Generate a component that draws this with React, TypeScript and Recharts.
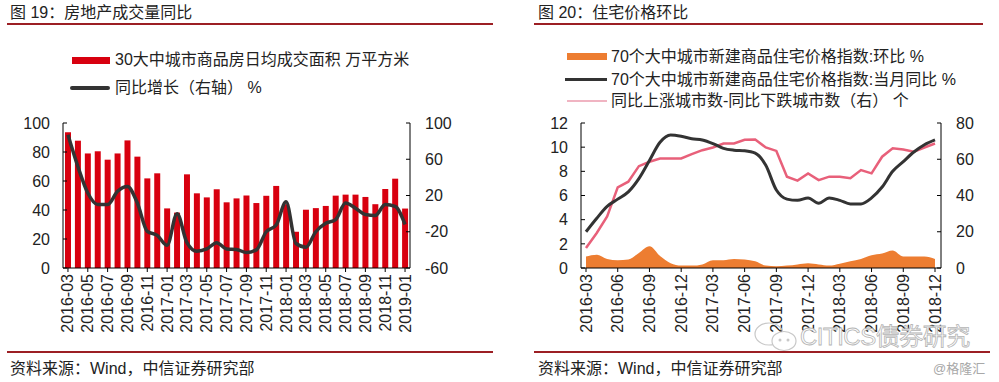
import React from 'react';
import { ComposedChart, Bar, Line, Area, XAxis, YAxis } from 'recharts';

const FONT = '"Liberation Sans", Arial, "Noto Sans CJK SC", sans-serif';

// 图 19：30大中城市商品房成交
const months19 = [
  '2016-03', '2016-04', '2016-05', '2016-06', '2016-07', '2016-08', '2016-09', '2016-10', '2016-11', '2016-12',
  '2017-01', '2017-02', '2017-03', '2017-04', '2017-05', '2017-06', '2017-07', '2017-08', '2017-09', '2017-10',
  '2017-11', '2017-12', '2018-01', '2018-02', '2018-03', '2018-04', '2018-05', '2018-06', '2018-07', '2018-08',
  '2018-09', '2018-10', '2018-11', '2018-12', '2019-01',
];
const dailyArea = [
  93.6, 87.8, 79, 80.5, 74.7, 79, 88, 76.8, 61.8, 65.3,
  41.1, 38.2, 64.6, 51.5, 48.7, 54.3, 45.3, 48, 50, 44.8,
  49.8, 56.6, 44, 25, 40.2, 41.3, 42.8, 49.9, 50.6, 50.6,
  49, 44, 54.5, 61.6, 41,
];
const areaYoy = [
  87, 52, 22.7, 10, 10, 24.6, 30, 11.7, -19.5, -24,
  -35, 0, -32, -41.5, -39, -32, -39, -39.5, -43, -40,
  -20, -12.6, 13, -33, -37, -20, -10.7, -6.6, 11.7, 6,
  -1, -2, 10, 8, -12,
];

// 图 20：70城新建商品住宅价格
const months20 = [
  '2016-03', '2016-04', '2016-05', '2016-06', '2016-07', '2016-08', '2016-09', '2016-10', '2016-11', '2016-12',
  '2017-01', '2017-02', '2017-03', '2017-04', '2017-05', '2017-06', '2017-07', '2017-08', '2017-09', '2017-10',
  '2017-11', '2017-12', '2018-01', '2018-02', '2018-03', '2018-04', '2018-05', '2018-06', '2018-07', '2018-08',
  '2018-09', '2018-10', '2018-11', '2018-12',
];
const priceMom = [
  0.95, 1.1, 0.75, 0.65, 0.7, 1.25, 1.8, 1.0, 0.4, 0.2,
  0.2, 0.3, 0.65, 0.65, 0.75, 0.7, 0.55, 0.2, 0.15, 0.2,
  0.3, 0.4, 0.3, 0.2, 0.35, 0.55, 0.75, 1.05, 1.2, 1.45,
  0.95, 0.95, 0.95, 0.75,
];
const priceYoy = [
  3.0, 4.1, 5.1, 5.7, 6.3, 7.4, 8.9, 10.4, 11.0, 10.9,
  10.7, 10.6, 10.3, 9.9, 9.75, 9.7, 9.5, 8.5, 6.45, 5.7,
  5.6, 5.8, 5.35, 5.8, 5.6, 5.3, 5.3, 5.8, 6.7, 8.0,
  8.8, 9.6, 10.2, 10.6,
];
const upMinusDown = [
  11, 19.2, 28.4, 44.5, 47.6, 56.2, 58.6, 60.4, 60.4, 60.4,
  62.8, 65, 66.5, 68.7, 68.7, 70.7, 70.9, 66.5, 64.6, 50.4,
  48.2, 52.2, 48.5, 50.4, 50.4, 49.5, 54, 52.2, 61.4, 66,
  65.4, 64.1, 66.5, 68.7,
];

const leftTicks19 = [0, 20, 40, 60, 80, 100];
const rightTicks19 = [-60, -40, -20, 0, 20, 40, 60, 80, 100];
const leftTicks20 = [0, 2, 4, 6, 8, 10, 12];
const rightTicks20 = [0, 20, 40, 60, 80];

const data19 = months19.map((m, i) => ({ month: m, area: dailyArea[i], yoy: areaYoy[i] }));
const data20 = months20.map((m, i) => ({ month: m, mom: priceMom[i], yoy: priceYoy[i], diff: upMinusDown[i] }));

const RED = '#d8000f';
const DARK = '#333333';
const ORANGE = '#ed7d31';
const PINK = '#e8607a';
const RULE = '#9c1f24';
const tickStyle = { fontSize: 16, fill: '#222', fontFamily: FONT };

function VTick(props: any) {
  const { x, y, payload } = props;
  return (
    <text
      x={x}
      y={y}
      transform={`rotate(-90 ${x} ${y})`}
      textAnchor="end"
      dominantBaseline="central"
      fontSize={16}
      fill="#222"
      fontFamily={FONT}
    >
      {payload.value}
    </text>
  );
}

function Txt({ left, cy, size = 16, color = '#222', children }: any) {
  return (
    <div
      style={{
        position: 'absolute',
        left,
        top: cy - 11,
        height: 22,
        lineHeight: '22px',
        fontSize: size,
        color,
        whiteSpace: 'nowrap',
      }}
    >
      {children}
    </div>
  );
}

function Rule({ left, top, width }: any) {
  return <div style={{ position: 'absolute', left, top, width, height: 2, background: RULE }} />;
}

export default function App() {
  return (
    <div
      style={{
        position: 'absolute',
        left: 0,
        top: 0,
        width: 999,
        height: 382,
        background: '#fff',
        fontFamily: FONT,
        overflow: 'hidden',
      }}
    >
      {/* 左图 */}
      <div style={{ position: 'absolute', left: 0, top: 0 }}>
        <ComposedChart width={500} height={345} data={data19} margin={{ top: 123, right: 0, bottom: 0, left: 0 }}>
          <XAxis
            dataKey="month"
            interval={1}
            height={77}
            tick={<VTick />}
            tickSize={4}
            tickMargin={2}
            stroke="#000"
          />
          <YAxis
            yAxisId="l"
            width={63}
            domain={[0, 100]}
            ticks={leftTicks19}
            tick={tickStyle}
            tickSize={-4}
            tickMargin={17}
            stroke="#000"
          />
          <YAxis
            yAxisId="r"
            orientation="right"
            width={90}
            domain={[-60, 100]}
            ticks={rightTicks19}
            tick={tickStyle}
            tickSize={-4}
            tickMargin={19}
            stroke="#000"
          />
          <Bar yAxisId="l" dataKey="area" fill={RED} barSize={6} isAnimationActive={false} />
          <Line
            yAxisId="r"
            type="monotone"
            dataKey="yoy"
            stroke={DARK}
            strokeWidth={3.5}
            dot={false}
            isAnimationActive={false}
          />
        </ComposedChart>
      </div>

      {/* 右图 */}
      <div style={{ position: 'absolute', left: 500, top: 0 }}>
        <ComposedChart width={500} height={345} data={data20} margin={{ top: 123, right: 0, bottom: 0, left: 0 }}>
          <XAxis
            dataKey="month"
            interval={2}
            height={77}
            tick={<VTick />}
            tickSize={4}
            tickMargin={2}
            padding={{ left: 5, right: 6 }}
            stroke="#000"
          />
          <YAxis
            yAxisId="l"
            width={81}
            domain={[0, 12]}
            ticks={leftTicks20}
            tick={tickStyle}
            tickSize={-4}
            tickMargin={17}
            stroke="#000"
          />
          <YAxis
            yAxisId="r"
            orientation="right"
            width={59}
            domain={[0, 80]}
            ticks={rightTicks20}
            tick={tickStyle}
            tickSize={-4}
            tickMargin={19}
            stroke="#000"
          />
          <Area
            yAxisId="l"
            type="monotone"
            dataKey="mom"
            stroke="none"
            fill={ORANGE}
            fillOpacity={1}
            isAnimationActive={false}
          />
          <Line
            yAxisId="r"
            type="linear"
            dataKey="diff"
            stroke={PINK}
            strokeWidth={2.5}
            dot={false}
            isAnimationActive={false}
          />
          <Line
            yAxisId="l"
            type="monotone"
            dataKey="yoy"
            stroke={DARK}
            strokeWidth={3}
            dot={false}
            isAnimationActive={false}
          />
        </ComposedChart>
      </div>

      {/* 标题与分隔线 */}
      <Txt left={10} cy={13}>图 19：房地产成交量同比</Txt>
      <Rule left={7} top={23} width={486} />
      <Txt left={538} cy={13}>图 20：住宅价格环比</Txt>
      <Rule left={534} top={23} width={449} />

      {/* 左图图例 */}
      <div style={{ position: 'absolute', left: 72, top: 57, width: 38, height: 7, background: RED }} />
      <Txt left={115} cy={60}>30大中城市商品房日均成交面积 万平方米</Txt>
      <div style={{ position: 'absolute', left: 70, top: 86, width: 40, height: 4, borderRadius: 2, background: DARK }} />
      <Txt left={115} cy={88}>同比增长（右轴） %</Txt>

      {/* 右图图例 */}
      <div style={{ position: 'absolute', left: 567, top: 53, width: 40, height: 7, background: ORANGE }} />
      <Txt left={611} cy={57}>70个大中城市新建商品住宅价格指数:环比 %</Txt>
      <div style={{ position: 'absolute', left: 565, top: 78, width: 42, height: 3, background: DARK }} />
      <Txt left={611} cy={80}>70个大中城市新建商品住宅价格指数:当月同比 %</Txt>
      <div style={{ position: 'absolute', left: 567, top: 100, width: 40, height: 2, background: '#f0b4c2' }} />
      <Txt left={611} cy={101}>同比上涨城市数-同比下跌城市数（右） 个</Txt>

      {/* 水印 */}
      <svg style={{ position: 'absolute', left: 752, top: 320 }} width={50} height={34}>
        <ellipse cx={17} cy={14} rx={14} ry={11} fill="none" stroke="#c8c8c8" strokeWidth={1.2} />
        <ellipse cx={32} cy={21} rx={12} ry={9.5} fill="#fff" stroke="#c8c8c8" strokeWidth={1.2} />
        <circle cx={28} cy={20} r={1.5} fill="#c8c8c8" />
        <circle cx={36} cy={20} r={1.5} fill="#c8c8c8" />
      </svg>
      <div
        style={{
          position: 'absolute',
          left: 800,
          top: 322,
          fontSize: 24,
          lineHeight: '30px',
          color: '#fff',
          WebkitTextStroke: '0.8px #b4b4b4',
          whiteSpace: 'nowrap',
          letterSpacing: -0.5,
        }}
      >
        CITICS债券研究
      </div>

      {/* 底部 */}
      <Rule left={7} top={351} width={486} />
      <Rule left={534} top={351} width={456} />
      <Txt left={10} cy={369}>资料来源：Wind，中信证券研究部</Txt>
      <Txt left={538} cy={369}>资料来源：Wind，中信证券研究部</Txt>
      <Txt left={933} cy={369} size={13} color="#a8a8a8">@格隆汇</Txt>
    </div>
  );
}
